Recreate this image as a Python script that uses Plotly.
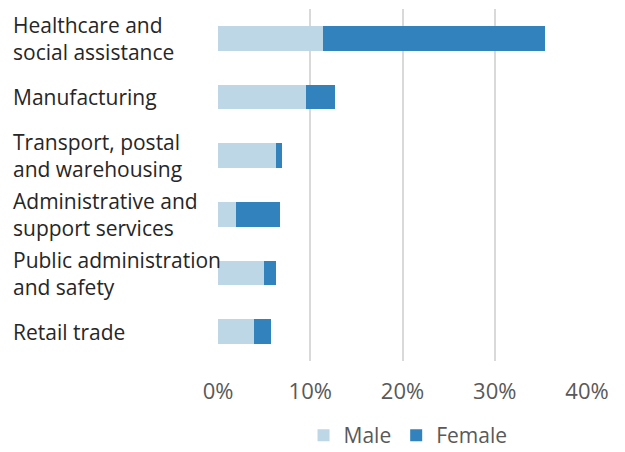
import plotly.graph_objects as go

categories = [
    "Healthcare and<br>social assistance",
    "Manufacturing",
    "Transport, postal<br>and warehousing",
    "Administrative and<br>support services",
    "Public administration<br>and safety",
    "Retail trade",
]
male = [11.4, 9.5, 6.3, 2.0, 5.0, 3.9]
female = [24.0, 3.2, 0.6, 4.75, 1.3, 1.85]
tick_vals = [0, 10, 20, 30, 40]
tick_text = ["0%", "10%", "20%", "30%", "40%"]

FONT = "Open Sans"

fig = go.Figure()
fig.add_trace(go.Bar(y=categories, x=male, name="Male", orientation="h",
                     marker=dict(color="#BDD7E7", line=dict(width=0))))
fig.add_trace(go.Bar(y=categories, x=female, name="Female", orientation="h",
                     marker=dict(color="#3182BD", line=dict(width=0))))

for c in categories:
    fig.add_annotation(x=0, xref="paper", xshift=-207, y=c, yref="y",
                       text=c, showarrow=False, xanchor="left", align="left",
                       font=dict(family=FONT, size=21, color="#262626"))

fig.update_layout(
    width=625, height=452,
    margin=dict(l=218, r=38, t=9, b=91, autoexpand=False),
    barmode="stack", bargap=0.58,
    plot_bgcolor="white", paper_bgcolor="white",
    font=dict(family=FONT, size=21, color="#595959"),
    showlegend=True,
    legend=dict(orientation="h", x=0.515, xanchor="center", y=-0.212, yanchor="middle",
                font=dict(family=FONT, size=21, color="#595959"),
                traceorder="normal", itemwidth=30),
    xaxis=dict(range=[0, 40], tickvals=tick_vals, ticktext=tick_text, automargin=False,
               showgrid=True, gridcolor="#D9D9D9", gridwidth=2,
               zeroline=False, showline=False, ticks="", ticklabelstandoff=15,
               tickfont=dict(family=FONT, size=22, color="#595959"), fixedrange=True),
    yaxis=dict(autorange="reversed", showticklabels=False, showgrid=False, automargin=False,
               zeroline=False, showline=False, ticks=""),
)

fig.write_html("out.html")
